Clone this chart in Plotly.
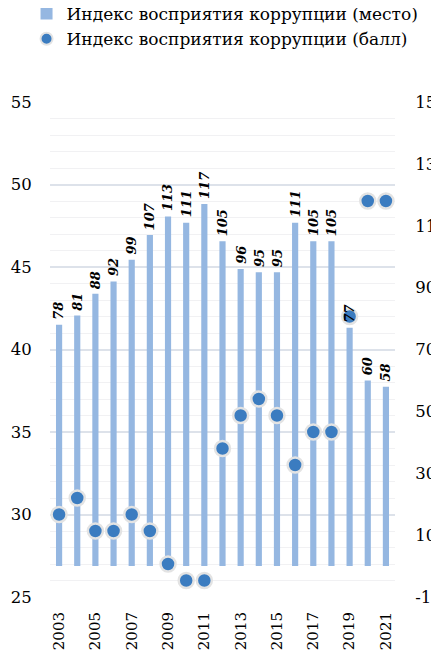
import plotly.graph_objects as go

years = list(range(2003, 2022))
rank = [78, 81, 88, 92, 99, 107, 113, 111, 117, 105, 96, 95, 95, 111, 105, 105, 77, 60, 58]
score = [30, 31, 29, 29, 30, 29, 27, 26, 26, 34, 36, 37, 36, 33, 35, 35, 42, 49, 49]
tick_years = list(range(2003, 2022, 2))
rank_ticks = [-10, 10, 30, 50, 70, 90, 110, 130, 150]
rank_ticktext = ["-10", "10", "30", "50", "70", "90", "110", "130", "150"]
score_ticks = [25, 30, 35, 40, 45, 50, 55]

FONT = "DejaVu Serif"

fig = go.Figure()
fig.add_trace(go.Bar(
    x=years, y=rank, name="Индекс восприятия коррупции (место)",
    marker=dict(color="#95b7e1", line=dict(width=0)),
    width=0.34, cliponaxis=False, xaxis="x", yaxis="y",
))
fig.add_trace(go.Scatter(
    x=years, y=score, name="Индекс восприятия коррупции (балл)",
    mode="markers",
    marker=dict(color="#3b7cc0", size=15, line=dict(color="#e3e3e3", width=2.5)),
    xaxis="x", yaxis="y2", cliponaxis=False,
))

for yr, r in zip(years, rank):
    fig.add_annotation(
        x=yr, y=r, xref="x", yref="y", text=f"<b><i>{r}</i></b>",
        textangle=-90, showarrow=False, xanchor="center", yanchor="bottom",
        yshift=3, font=dict(family=FONT, size=13, color="black"),
    )

fig.update_layout(
    width=431, height=643,
    margin=dict(l=42, r=44, t=94, b=54, autoexpand=False),
    paper_bgcolor="white", plot_bgcolor="white",
    font=dict(family=FONT, color="black", size=16),
    showlegend=True,
    legend=dict(x=-0.068, y=1.214, xanchor="left", yanchor="top",
                font=dict(size=17, family=FONT),
                itemsizing="constant", tracegroupgap=0, bgcolor="rgba(0,0,0,0)"),
    xaxis=dict(range=[2002.5, 2021.5], tickmode="array", tickvals=tick_years,
               tickangle=-90, showgrid=False, showline=False, zeroline=False,
               ticks="outside", ticklen=8, tickcolor="rgba(0,0,0,0)",
               tickfont=dict(size=15, family=FONT)),
    yaxis=dict(range=[-10, 150], tickmode="array",
               tickvals=rank_ticks, ticktext=rank_ticktext, side="right",
               showgrid=False, zeroline=False, showline=False,
               ticks="outside", ticklen=16, tickcolor="rgba(0,0,0,0)",
               tickfont=dict(size=16.5, family=FONT)),
    yaxis2=dict(range=[25, 55], tickmode="array", tickvals=score_ticks,
                side="left", overlaying="y", anchor="x",
                showgrid=True, gridcolor="#dde2ea", gridwidth=1.5,
                minor=dict(tickmode="array", tickvals=[v for v in range(25, 56) if v % 5],
                           showgrid=True, gridcolor="#f1f1f3", gridwidth=1, ticks=""),
                zeroline=False, showline=False,
                ticks="outside", ticklen=14, tickcolor="rgba(0,0,0,0)",
                tickfont=dict(size=16.5, family=FONT)),
)

fig.write_html("out.html")
